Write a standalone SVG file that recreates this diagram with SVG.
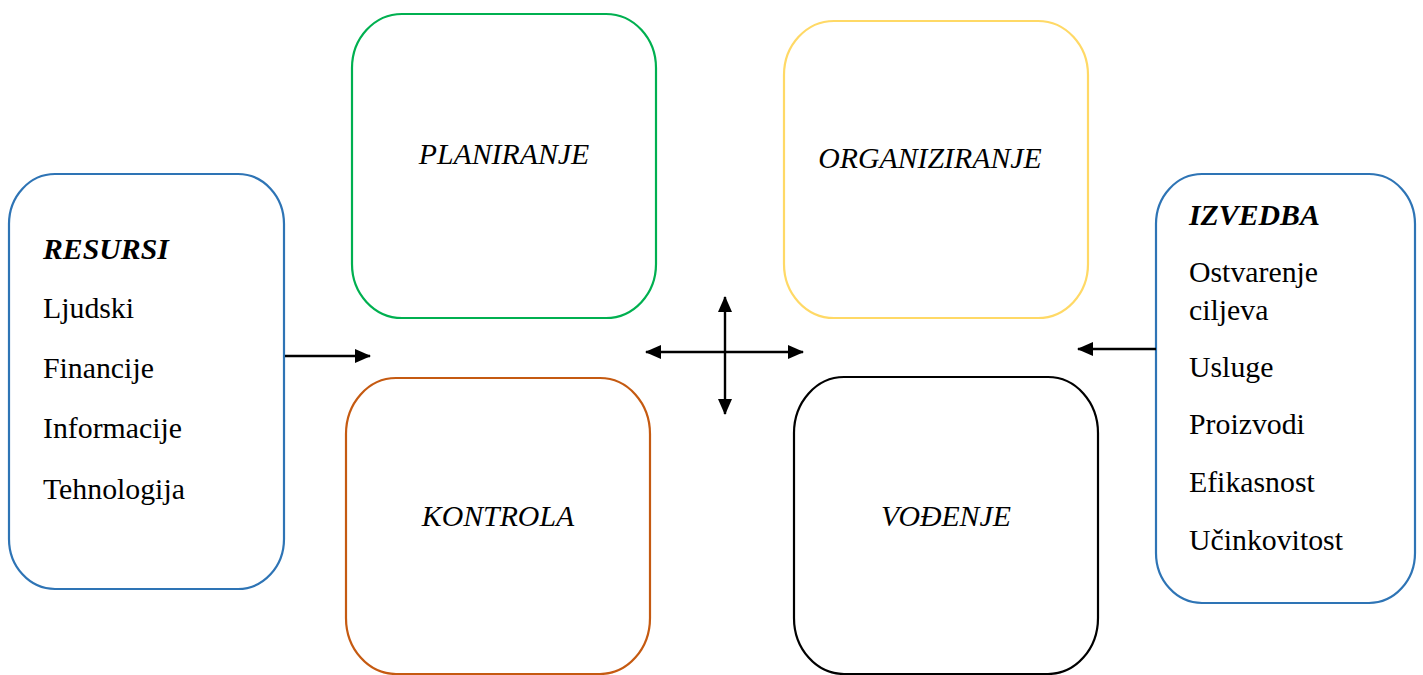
<svg xmlns="http://www.w3.org/2000/svg" width="1423" height="675" viewBox="0 0 1423 675">
<style>
.box{fill:#fff;stroke-width:2.2}
.t{font-family:"Liberation Serif","Times New Roman",serif;font-size:29.8px;fill:#000}
.i{font-style:italic}
.b{font-weight:bold}
.c{text-anchor:middle}
.ln{stroke:#000;stroke-width:2.4;fill:none}
</style>
<defs>
<marker id="ah" viewBox="0 0 16 14" refX="15" refY="7" markerWidth="16" markerHeight="14" markerUnits="userSpaceOnUse" orient="auto-start-reverse">
<path d="M0,0 L16,7 L0,14 z" fill="#000"/>
</marker>
</defs>
<rect width="1423" height="675" fill="#fff"/>
<g id="resursi">
<rect class="box" x="9" y="174" width="275" height="415" rx="46" ry="50" stroke="#2E74B5"/>
<text class="t i b" x="43" y="259">RESURSI</text>
<text class="t" x="43" y="318">Ljudski</text>
<text class="t" x="43" y="378">Financije</text>
<text class="t" x="43" y="438">Informacije</text>
<text class="t" x="43" y="499">Tehnologija</text>
</g>
<g id="planiranje">
<rect class="box" x="352" y="14" width="304" height="304" rx="50" ry="54" stroke="#00B050"/>
<text class="t i c" x="504" y="164">PLANIRANJE</text>
</g>
<g id="organiziranje">
<rect class="box" x="784" y="21" width="304" height="297" rx="50" ry="54" stroke="#FFD966"/>
<text class="t i c" x="930" y="168">ORGANIZIRANJE</text>
</g>
<g id="kontrola">
<rect class="box" x="346" y="378" width="304" height="296" rx="50" ry="56" stroke="#C55A11"/>
<text class="t i c" x="498" y="526">KONTROLA</text>
</g>
<g id="vodenje">
<rect class="box" x="794" y="377" width="304" height="297" rx="50" ry="56" stroke="#000"/>
<text class="t i c" x="946" y="526">VOĐENJE</text>
</g>
<g id="izvedba">
<rect class="box" x="1156" y="174" width="259" height="429" rx="46" ry="50" stroke="#2E74B5"/>
<text class="t i b" x="1189" y="225">IZVEDBA</text>
<text class="t" x="1189" y="282">Ostvarenje</text>
<text class="t" x="1189" y="320">ciljeva</text>
<text class="t" x="1189" y="377">Usluge</text>
<text class="t" x="1189" y="434">Proizvodi</text>
<text class="t" x="1189" y="492">Efikasnost</text>
<text class="t" x="1189" y="550">Učinkovitost</text>
</g>
<g id="connectors">
<line class="ln" x1="285" y1="356" x2="370" y2="356" marker-end="url(#ah)"/>
<line class="ln" x1="1156" y1="349" x2="1078" y2="349" marker-end="url(#ah)"/>
<line class="ln" x1="646" y1="352" x2="803" y2="352" marker-start="url(#ah)" marker-end="url(#ah)"/>
<line class="ln" x1="725" y1="297" x2="725" y2="414" marker-start="url(#ah)" marker-end="url(#ah)"/>
</g>
</svg>
